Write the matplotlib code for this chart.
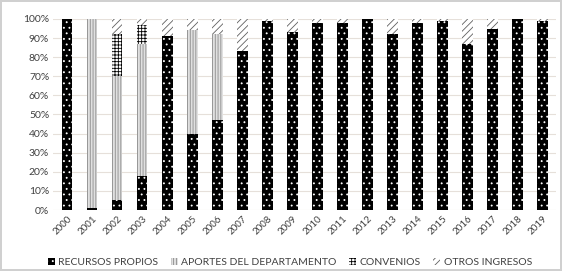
import matplotlib.pyplot as plt
import numpy as np

plt.rcParams['font.family'] = ['Lato', 'DejaVu Sans']
plt.rcParams['hatch.linewidth'] = 0.6

years = [str(y) for y in range(2000, 2020)]
recursos = [100, 1, 5, 18, 91, 40, 47, 83, 99, 93, 98, 98, 100, 92, 98, 99, 87, 95, 100, 99]
aportes = [0, 99, 65, 69, 0, 54, 45, 0, 0, 0, 0, 0, 0, 0, 0, 0, 0, 0, 0, 0]
convenios = [0, 0, 22, 10, 0, 0, 0, 0, 0, 0, 0, 0, 0, 0, 0, 0, 0, 0, 0, 0]
otros = [0, 0, 8, 3, 9, 6, 8, 17, 1, 7, 2, 2, 0, 8, 2, 1, 13, 5, 0, 1]

x = np.arange(len(years))
w = 0.42

fig = plt.figure(figsize=(5.62, 2.71), dpi=100)
fig.patch.set_edgecolor('#d0d0d0')
fig.patch.set_linewidth(1.5)
ax = fig.add_axes([0.095, 0.225, 0.895, 0.705])

b1 = np.array(recursos, dtype=float)
b2 = b1 + np.array(aportes)
b3 = b2 + np.array(convenios)

ax.bar(x, recursos, w, color='black', edgecolor='white', hatch='...', linewidth=0,
       label='RECURSOS PROPIOS')
ax.bar(x, aportes, w, bottom=b1, color='#e0e0e0', edgecolor='#8a8a8a', hatch='||||||', linewidth=0,
       label='APORTES DEL DEPARTAMENTO')
ax.bar(x, convenios, w, bottom=b2, color='white', edgecolor='black', hatch='+++++', linewidth=0,
       label='CONVENIOS')
ax.bar(x, otros, w, bottom=b3, color='white', edgecolor='#606060', hatch='/////', linewidth=0,
       label='OTROS INGRESOS')

ax.set_ylim(0, 100)
ax.set_xlim(-0.55, len(years) - 0.45)
ax.set_yticks(np.arange(0, 101, 10))
ax.set_yticklabels([f'{v}%' for v in range(0, 101, 10)], fontsize=7.5, color='#404040')
ax.tick_params(length=0, pad=3)
ax.set_xticks(x)
ax.set_xticklabels(years, fontsize=7, color='#404040')
for lbl in ax.get_xticklabels():
    lbl.set_rotation(45)
    lbl.set_ha('right')
    lbl.set_va('top')
    lbl.set_rotation_mode('anchor')
ax.yaxis.grid(True, color='#e6e0da', linewidth=0.8)
ax.set_axisbelow(True)
for s in ax.spines.values():
    s.set_visible(False)

ax.legend(loc='upper center', bbox_to_anchor=(0.47, -0.2), ncol=4, frameon=False,
          fontsize=7.5, handlelength=0.7, handleheight=0.7, handletextpad=0.3,
          columnspacing=1.2, labelcolor='#404040')

fig.savefig('out.png', dpi=100)
